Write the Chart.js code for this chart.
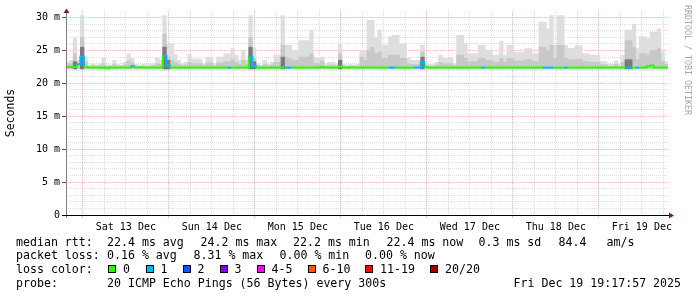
<!DOCTYPE html>
<html>
<head>
<meta charset="utf-8">
<script src="https://cdn.jsdelivr.net/npm/chart.js@4.4.1/dist/chart.umd.min.js"></script>
<style>
  html, body { margin: 0; padding: 0; background: #fff; }
  #wrap { position: relative; width: 697px; height: 297px; overflow: hidden; font-family: 'DejaVu Sans Mono', monospace; color: #000; }
  #chart { position: absolute; left: 0; top: 0; }
  .t { position: absolute; font-size: 11.6px; line-height: 14px; white-space: pre; }
  .box { position: absolute; top: 265px; width: 6px; height: 6px; border: 1px solid #000; }
  #mark { position: absolute; left: 684px; top: 5px; font-size: 8.3px; line-height: 8px; color: #a8a8a8; writing-mode: vertical-rl; white-space: pre; }
</style>
</head>
<body>
<div id="wrap">
  <canvas id="chart" width="697" height="297"></canvas>
  <div id="mark">RRDTOOL / TOBI OETIKER</div>

  <div class="t" style="left:16px;top:234.5px">median rtt:</div>
  <div class="t" style="left:107px;top:234.5px">22.4 ms avg</div>
  <div class="t" style="left:200.5px;top:234.5px">24.2 ms max</div>
  <div class="t" style="left:293px;top:234.5px">22.2 ms min</div>
  <div class="t" style="left:386.5px;top:234.5px">22.4 ms now</div>
  <div class="t" style="left:478.5px;top:234.5px">0.3 ms sd</div>
  <div class="t" style="left:558.5px;top:234.5px">84.4</div>
  <div class="t" style="left:606.5px;top:234.5px">am/s</div>

  <div class="t" style="left:16px;top:248px">packet loss:</div>
  <div class="t" style="left:107px;top:248px">0.16 % avg</div>
  <div class="t" style="left:193.5px;top:248px">8.31 % max</div>
  <div class="t" style="left:279.5px;top:248px">0.00 % min</div>
  <div class="t" style="left:365px;top:248px">0.00 % now</div>

  <div class="t" style="left:16px;top:262px">loss color:</div>
  <div id="lossLegend"></div>

  <div class="t" style="left:16px;top:276px">probe:</div>
  <div class="t" style="left:107px;top:276px">20 ICMP Echo Pings (56 Bytes) every 300s</div>
  <div class="t" style="left:513.5px;top:276px">Fri Dec 19 19:17:57 2025</div>
</div>
<script>
// SmokePing style latency graph, one week, one bin per hour
const START_HOUR = 19.3;          // graph starts Fri 12 Dec ~19:18
const HOURS = 168;
const dayLabels = ['Sat 13 Dec', 'Sun 14 Dec', 'Mon 15 Dec', 'Tue 16 Dec', 'Wed 17 Dec', 'Thu 18 Dec', 'Fri 19 Dec'];
const yTicks = [0, 1, 2, 3, 4, 5, 6, 7, 8, 9, 10, 11, 12, 13, 14, 15, 16, 17, 18, 19, 20, 21, 22, 23, 24, 25, 26, 27, 28, 29, 30];

const smokeFloor = 22.2;  // ms, bottom of the smoke

// highest ping of the hour (light smoke), ms
const smokeTop = [
  23.2, 23.5, 26.8, 23.5, 30.3, 24.0, 22.7, 23.0, 22.8, 23.0, 23.9, 22.8, 22.8, 23.5, 22.9, 22.8, 23.2, 24.5, 23.8, 22.9, 22.8, 22.9, 22.8, 22.9,
  23.0, 23.9, 23.5, 30.3, 26.0, 26.0, 24.4, 23.5, 23.0, 23.2, 24.4, 23.7, 23.7, 23.7, 23.0, 24.0, 24.0, 23.0, 24.0, 24.0, 24.5, 24.5, 25.3, 24.3,
  23.5, 25.0, 23.5, 30.3, 25.3, 23.0, 22.8, 23.5, 23.0, 23.2, 24.3, 24.3, 30.3, 25.8, 25.8, 25.0, 25.0, 26.5, 26.5, 26.5, 28.1, 23.8, 23.8, 24.0,
  23.0, 23.2, 23.2, 23.0, 26.0, 22.9, 22.8, 22.9, 22.8, 22.9, 25.0, 25.0, 29.6, 29.6, 27.0, 28.1, 25.8, 25.8, 27.1, 27.3, 27.3, 26.0, 26.0, 23.8,
  23.5, 23.5, 23.5, 25.8, 23.0, 22.9, 22.9, 23.2, 24.3, 23.8, 23.8, 23.8, 23.0, 27.3, 27.3, 26.0, 24.5, 24.5, 24.5, 25.8, 25.8, 25.0, 25.0, 24.3,
  24.3, 26.4, 24.3, 25.8, 25.8, 24.7, 24.7, 24.7, 25.3, 25.3, 24.5, 24.5, 29.3, 29.3, 28.3, 30.3, 25.8, 30.3, 30.3, 25.8, 25.3, 25.3, 25.7, 25.7,
  24.5, 24.5, 24.3, 24.3, 24.3, 23.3, 23.3, 22.9, 22.9, 23.4, 22.9, 24.3, 28.1, 28.1, 29.0, 25.3, 27.1, 27.1, 26.8, 27.8, 27.8, 28.3, 24.7, 23.3
];

// denser middle part of the smoke, ms
const smokeMid = [
  23.0, 23.0, 24.5, 23.0, 27.0, 23.2, 22.6, 22.7, 22.6, 22.7, 23.0, 22.6, 22.6, 22.9, 22.6, 22.6, 22.8, 23.4, 23.1, 22.6, 22.6, 22.6, 22.6, 22.6,
  22.7, 23.0, 22.9, 27.5, 24.0, 23.5, 23.2, 22.9, 22.7, 22.8, 23.2, 23.0, 23.0, 23.0, 22.7, 23.1, 23.1, 22.7, 23.1, 23.1, 23.3, 23.3, 23.6, 23.2,
  22.9, 23.5, 22.9, 27.0, 23.8, 22.7, 22.6, 22.9, 22.7, 22.8, 23.2, 23.2, 25.8, 24.0, 23.8, 23.5, 23.5, 24.0, 24.0, 24.0, 24.5, 23.0, 23.0, 23.4,
  22.7, 22.8, 22.8, 22.7, 24.5, 22.6, 22.6, 22.6, 22.6, 22.6, 24.0, 23.5, 25.0, 25.5, 24.5, 24.8, 23.8, 23.8, 24.3, 24.3, 24.3, 23.8, 23.8, 23.0,
  22.9, 22.9, 22.9, 24.8, 22.7, 22.6, 22.6, 22.8, 23.2, 23.0, 23.0, 23.0, 22.7, 24.3, 24.3, 23.8, 23.3, 23.3, 23.3, 23.8, 23.8, 23.5, 23.5, 23.2,
  23.2, 23.8, 23.2, 23.8, 23.8, 23.4, 23.4, 23.4, 23.6, 23.6, 23.3, 23.3, 25.5, 25.5, 25.0, 25.8, 23.8, 25.8, 25.8, 23.8, 23.6, 23.6, 23.7, 23.7,
  23.3, 23.3, 23.2, 23.2, 23.2, 22.9, 22.9, 22.6, 22.6, 22.9, 22.6, 23.2, 26.5, 26.5, 25.5, 23.6, 24.5, 24.5, 24.3, 25.0, 25.0, 25.3, 23.4, 22.9
];

// darkest core of the smoke (only where visible), ms
const smokeDark = [
  null, null, 23.3, null, 25.5, null, null, null, null, null, null, null, null, null, null, null, null, null, null, null, null, null, null, null,
  null, null, null, 25.5, 23.5, null, null, null, null, null, null, null, null, null, null, null, null, null, null, null, null, null, null, null,
  null, null, null, 25.5, 23.3, null, null, null, null, null, null, null, 24.0, null, null, null, null, null, null, null, null, null, null, null,
  null, null, null, null, 23.5, null, null, null, null, null, null, null, null, null, null, null, null, null, null, null, null, null, null, null,
  null, null, null, 24.0, null, null, null, null, null, null, null, null, null, null, null, null, null, null, null, null, null, null, null, null,
  null, null, null, null, null, null, null, null, null, null, null, null, null, null, null, null, null, null, null, null, null, null, null, null,
  null, null, null, null, null, null, null, null, null, null, null, null, 23.6, 23.6, null, null, null, null, null, null, null, null, null, null
];

// median rtt per hour, ms
const medianRtt = [
  22.5, 22.5, 22.5, 22.9, 24.1, 22.5, 22.4, 22.4, 22.4, 22.4, 22.4, 22.3, 22.4, 22.4, 22.4, 22.4, 22.4, 22.4, 22.6, 22.4, 22.4, 22.4, 22.4, 22.4,
  22.4, 22.4, 22.4, 24.2, 22.7, 22.4, 22.4, 22.4, 22.4, 22.4, 22.4, 22.4, 22.4, 22.4, 22.4, 22.4, 22.4, 22.4, 22.4, 22.4, 22.4, 22.4, 22.4, 22.4,
  22.4, 22.4, 22.4, 24.0, 22.6, 22.4, 22.4, 22.4, 22.4, 22.4, 22.4, 22.4, 22.4, 22.4, 22.4, 22.4, 22.4, 22.4, 22.4, 22.4, 22.4, 22.4, 22.4, 22.5,
  22.4, 22.4, 22.4, 22.4, 22.6, 22.4, 22.4, 22.4, 22.4, 22.4, 22.4, 22.4, 22.4, 22.4, 22.4, 22.4, 22.4, 22.4, 22.4, 22.4, 22.4, 22.4, 22.4, 22.4,
  22.4, 22.4, 22.4, 23.2, 22.5, 22.4, 22.4, 22.4, 22.4, 22.4, 22.4, 22.4, 22.4, 22.4, 22.4, 22.4, 22.4, 22.4, 22.4, 22.4, 22.4, 22.4, 22.4, 22.4,
  22.4, 22.4, 22.4, 22.4, 22.4, 22.4, 22.4, 22.4, 22.4, 22.4, 22.4, 22.4, 22.4, 22.4, 22.4, 22.4, 22.4, 22.4, 22.4, 22.4, 22.4, 22.4, 22.4, 22.4,
  22.4, 22.4, 22.4, 22.4, 22.4, 22.4, 22.4, 22.4, 22.4, 22.4, 22.4, 22.4, 22.4, 22.4, 22.4, 22.4, 22.4, 22.4, 22.6, 22.7, 22.4, 22.4, 22.4, 22.4
];

// lost pings (of 20) per hour
const lossCount = [
  0, 0, 0, 1, 1, 0, 0, 0, 0, 0, 0, 0, 0, 0, 0, 0, 0, 0, 1, 0, 0, 0, 0, 0,
  0, 0, 0, 1, 1, 0, 0, 0, 0, 0, 0, 0, 0, 0, 0, 0, 0, 0, 0, 0, 0, 1, 0, 0,
  0, 0, 0, 1, 1, 0, 0, 0, 0, 0, 0, 0, 0, 1, 1, 0, 0, 0, 0, 0, 0, 0, 0, 0,
  0, 0, 0, 0, 0, 0, 0, 0, 0, 0, 0, 0, 0, 0, 0, 0, 0, 0, 1, 1, 0, 0, 0, 0,
  0, 1, 1, 1, 0, 0, 0, 0, 0, 0, 0, 0, 0, 0, 0, 0, 0, 0, 0, 0, 1, 0, 0, 0,
  0, 0, 0, 0, 0, 0, 0, 0, 0, 0, 0, 0, 0, 1, 1, 1, 0, 0, 0, 1, 0, 0, 0, 0,
  0, 0, 0, 0, 0, 0, 0, 0, 0, 0, 0, 0, 1, 1, 0, 1, 0, 0, 0, 0, 0, 0, 0, 0
];

const lossLabels = ['0', '1', '2', '3', '4-5', '6-10', '11-19', '20/20'];
const lossColors = ['#26ff00', '#00b8ff', '#0059ff', '#7e00ff', '#ff00ff', '#ff5500', '#ff0000', '#a10000'];

function lossColor(n) {
    if (n <= 3) return lossColors[n];
    if (n <= 5) return lossColors[4];
    if (n <= 10) return lossColors[5];
    if (n <= 19) return lossColors[6];
    return lossColors[7];
}

// loss colour legend (text + swatches)
const boxX = [108, 145.5, 182.5, 219.5, 256.5, 307.5, 365, 430];
const legendHost = document.getElementById('lossLegend');
lossLabels.forEach((lbl, i) => {
    const b = document.createElement('div');
    b.className = 'box';
    b.style.left = boxX[i] + 'px';
    b.style.background = lossColors[i];
    legendHost.appendChild(b);
    const t = document.createElement('div');
    t.className = 't';
    t.style.left = (boxX[i] + 15) + 'px';
    t.style.top = '262px';
    t.textContent = lbl;
    legendHost.appendChild(t);
});

function smokeLayer(values, color, order) {
    return {
        type: 'bar',
        data: values.map((v, i) => ({ x: i + 0.5, y: v === null ? null : [smokeFloor, v] })),
        backgroundColor: color,
        borderWidth: 0,
        grouped: false,
        barPercentage: 1,
        categoryPercentage: 1,
        order: order
    };
}

const medianPts = [];
medianRtt.forEach((m, i) => {
    medianPts.push({ x: i, y: m }, { x: i + 1, y: m });
});

const firstMidnight = 24 - START_HOUR;
const xTickHours = [];
for (let h = firstMidnight; h <= HOURS; h += 6) xTickHours.push(h);

const MONO = 'DejaVu Sans Mono';
const GRID_MAJOR = 'rgba(230,90,90,0.42)';
const GRID_MINOR = 'rgba(0,0,0,0.13)';

// axis lines + arrows, rrdtool style
const axisArrows = {
    id: 'axisArrows',
    afterDraw(chart) {
        const { ctx, chartArea: a } = chart;
        const x0 = Math.round(a.left) + 0.5;
        const y0 = Math.round(a.bottom) + 0.5;
        ctx.save();
        ctx.lineWidth = 1;
        ctx.strokeStyle = '#7f7f7f';
        ctx.beginPath();
        ctx.moveTo(x0, a.bottom + 3);
        ctx.lineTo(x0, a.top - 1);
        ctx.stroke();
        ctx.strokeStyle = '#000';
        ctx.beginPath();
        ctx.moveTo(a.left - 4, y0);
        ctx.lineTo(a.right + 1, y0);
        ctx.stroke();
        ctx.fillStyle = '#8b1a1a';
        ctx.beginPath();
        ctx.moveTo(x0, a.top - 2.5);
        ctx.lineTo(x0 - 3, a.top + 2);
        ctx.lineTo(x0 + 3, a.top + 2);
        ctx.closePath();
        ctx.fill();
        ctx.beginPath();
        ctx.moveTo(a.right + 6, y0);
        ctx.lineTo(a.right + 1, y0 - 3);
        ctx.lineTo(a.right + 1, y0 + 3);
        ctx.closePath();
        ctx.fill();
        ctx.restore();
    }
};

new Chart(document.getElementById('chart'), {
    type: 'bar',
    data: {
        datasets: [
            {
                type: 'line',
                data: medianPts,
                borderColor: lossColors[0],
                borderWidth: 2,
                pointRadius: 0,
                tension: 0,
                segment: {
                    borderColor: c => lossColor(lossCount[Math.floor(c.p0DataIndex / 2)])
                },
                order: 0
            },
            smokeLayer(smokeDark, '#7a7a7a', 1),
            smokeLayer(smokeMid, '#c8c8c8', 2),
            smokeLayer(smokeTop, '#dedede', 3)
        ]
    },
    options: {
        responsive: false,
        animation: false,
        devicePixelRatio: 1,
        layout: { padding: { left: 0, right: 29, top: 11, bottom: 62 } },
        plugins: { legend: { display: false }, tooltip: { enabled: false } },
        scales: {
            x: {
                type: 'linear',
                min: 0,
                max: HOURS,
                offset: false,
                afterBuildTicks: s => { s.ticks = xTickHours.map(v => ({ value: v })); },
                afterFit: s => { s.height = 20; },
                ticks: {
                    autoSkip: false,
                    maxRotation: 0,
                    padding: 3,
                    color: '#000',
                    font: { family: MONO, size: 10 },
                    callback: (v, i) => (i % 4 === 2 ? dayLabels[(i - 2) / 4] : '')
                },
                grid: {
                    offset: false,
                    tickLength: 3,
                    color: c => (c.index % 4 === 0 ? GRID_MAJOR : GRID_MINOR),
                    tickColor: c => (c.index % 4 === 0 ? GRID_MAJOR : 'rgba(0,0,0,0)')
                },
                border: { display: false, dash: [1, 1] }
            },
            y: {
                min: 0,
                max: 31,
                afterBuildTicks: s => { s.ticks = yTicks.map(v => ({ value: v })); },
                afterFit: s => { s.width = 66; },
                ticks: {
                    autoSkip: false,
                    padding: 2,
                    color: '#000',
                    font: { family: MONO, size: 10 },
                    callback: v => (v % 5 === 0 ? (v === 0 ? '0' : v + ' m') : '')
                },
                grid: {
                    tickLength: 4,
                    color: c => (c.tick && c.tick.value % 5 === 0 ? GRID_MAJOR : GRID_MINOR),
                    tickColor: c => (c.tick && c.tick.value % 5 === 0 ? '#555' : 'rgba(0,0,0,0)')
                },
                border: { display: false, dash: [1, 1] },
                title: {
                    display: true,
                    text: 'Seconds',
                    color: '#000',
                    font: { family: MONO, size: 11.5 },
                    padding: { top: 4, bottom: 0 }
                }
            }
        }
    },
    plugins: [axisArrows]
});
</script>
</body>
</html>
